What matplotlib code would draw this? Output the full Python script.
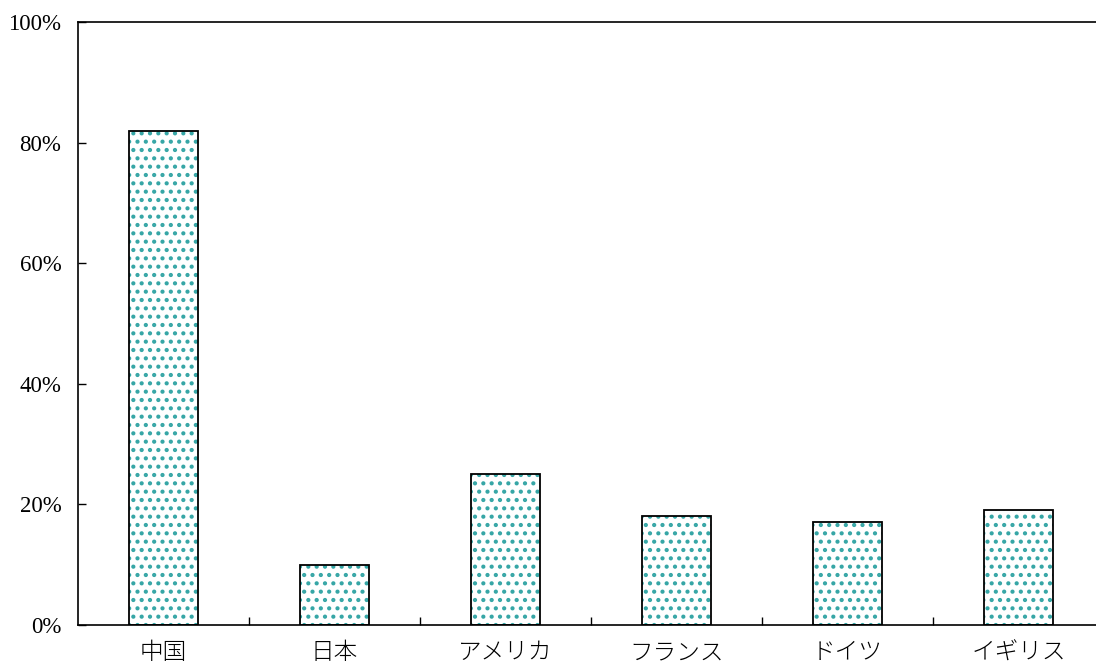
import matplotlib
matplotlib.use("Agg")
import matplotlib.pyplot as plt
from matplotlib.ticker import FixedLocator, FuncFormatter

categories = ["中国", "日本", "アメリカ", "フランス", "ドイツ", "イギリス"]
values = [82, 10, 25, 18, 17, 19]
yticks = [0, 20, 40, 60, 80, 100]

plt.rcParams['hatch.linewidth'] = 1.8

fig = plt.figure(figsize=(10.96, 6.66), dpi=100)
# axes extends beyond the right edge like the reference
ax = fig.add_axes([78/1096, (666-625)/666, 1026/1096, 603/666])

x = list(range(len(categories)))
# hatch layer (teal)
ax.bar(x, values, width=0.40, color='white', edgecolor='#36a6a6', linewidth=0,
       hatch='..', zorder=2)
# outline layer
ax.bar(x, values, width=0.40, fill=False, edgecolor='black', linewidth=1.3,
       zorder=3)

ax.set_xlim(-0.5, len(categories) - 0.5)
ax.set_ylim(0, 100)

ax.set_yticks(yticks)
ax.yaxis.set_major_formatter(FuncFormatter(lambda v, p: f"{int(v)}%"))
ax.tick_params(axis='y', direction='in', length=6, width=1, pad=12,
               labelsize=16.5)
for lab in ax.get_yticklabels():
    lab.set_family(['Liberation Serif', 'DejaVu Serif'])

ax.set_xticks(x)
ax.set_xticklabels(categories, family=['Noto Sans CJK JP', 'DejaVu Sans'],
                   fontsize=17, fontweight='light')
ax.tick_params(axis='x', which='major', length=0, pad=11)
ax.xaxis.set_minor_locator(FixedLocator([i + 0.5 for i in range(len(categories) - 1)]))
ax.tick_params(axis='x', which='minor', direction='in', length=6, width=1)

for s in ['left', 'bottom', 'top', 'right']:
    ax.spines[s].set_linewidth(1.2)
    ax.spines[s].set_color('black')

fig.savefig("out.png", dpi=100)
